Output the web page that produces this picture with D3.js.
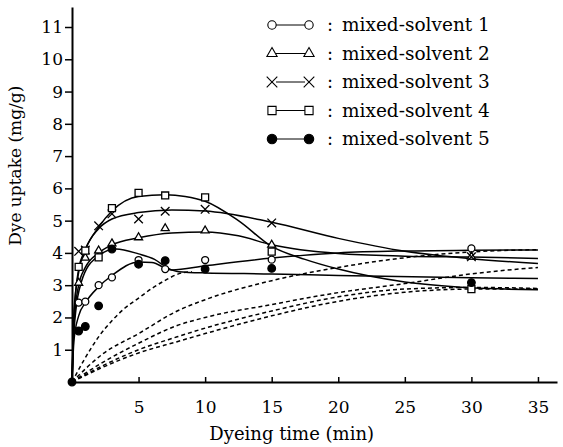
<!DOCTYPE html>
<html>
<head>
<meta charset="utf-8">
<script src="https://cdn.jsdelivr.net/npm/d3@7"></script>
<style>
  body { margin: 0; background: #fff; }
  text { font-family: "DejaVu Serif", serif; fill: #000; }
</style>
</head>
<body>
<div id="chart"></div>
<script>
// measured points (min, mg/g), null = not visible
const times = [0, 0.5, 1, 2, 3, 5, 7, 10, 15, 30];
const solvent1 = [null, 2.46, 2.49, 3.0, 3.24, 3.78, 3.5, 3.78, 3.79, 4.14];
const solvent2 = [null, 3.07, 3.85, 4.07, 4.29, 4.48, 4.76, 4.69, 4.25, 3.88];
const solvent3 = [null, 4.05, 4.09, 4.84, 5.21, 5.05, 5.29, 5.35, 4.93, 3.88];
const solvent4 = [null, 3.57, 4.07, 3.86, 5.39, 5.86, 5.78, 5.72, 4.04, 2.88];
const solvent5 = [0, 1.58, 1.72, 2.36, 4.12, 3.65, 3.76, 3.5, 3.52, 3.08];

// fitted solid curves
const fit1X = [0, 0.15, 0.5, 1, 2, 3, 5, 6, 7.5, 10, 15, 20, 25, 30, 35];
const fit1Y = [0, 1.3, 2.05, 2.45, 2.95, 3.3, 3.72, 3.7, 3.47, 3.6, 3.84, 4.0, 4.06, 4.08, 4.09];
const fit2X = [0, 0.15, 0.5, 1, 2, 3, 5, 7.5, 10, 12.5, 15, 20, 25, 30, 35];
const fit2Y = [0, 1.8, 3.0, 3.55, 4.0, 4.25, 4.47, 4.62, 4.65, 4.53, 4.25, 3.98, 3.9, 3.87, 3.83];
const fit3X = [0, 0.15, 0.5, 1, 2, 3, 5, 7.5, 10, 15, 20, 25, 30, 35];
const fit3Y = [0, 2.2, 3.4, 4.1, 4.75, 5.05, 5.25, 5.33, 5.3, 4.95, 4.45, 4.05, 3.82, 3.67];
const fit4X = [0, 0.15, 0.5, 1, 2, 3, 5, 7, 8.5, 10, 12.5, 15, 17.5, 20, 25, 30, 35];
const fit4Y = [0, 2.0, 3.5, 4.1, 4.8, 5.3, 5.75, 5.8, 5.75, 5.6, 5.0, 4.2, 3.8, 3.5, 3.1, 2.92, 2.86];
const fit5X = [0, 0.15, 0.7, 1.8, 3.3, 5, 6.2, 7.2, 8, 10, 15, 20, 30, 35];
const fit5Y = [0, 1.6, 3.1, 3.85, 4.12, 3.97, 3.8, 3.53, 3.42, 3.38, 3.35, 3.3, 3.23, 3.21];

// dashed curves
const dash1X = [0, 1, 2, 3, 4, 5, 6, 7, 8, 9];
const dash1Y = [0, 0.75, 1.4, 1.9, 2.3, 2.6, 2.9, 3.15, 3.35, 3.42];
const dashX = [0, 2.28, 5, 7.9, 10, 15, 20, 25, 30, 35];
const dash2Y = [0, 0.86, 1.5, 2.2, 2.55, 3.14, 3.55, 3.85, 4.03, 4.1];
const dash3Y = [0, 0.6, 1.2, 1.75, 2.0, 2.4, 2.77, 3.05, 3.35, 3.55];
const dash4Y = [0, 0.5, 1.0, 1.4, 1.67, 2.2, 2.64, 2.88, 2.93, 2.9];
const dash5Y = [0, 0.45, 0.9, 1.25, 1.5, 2.05, 2.5, 2.78, 2.88, 2.88];

const legendNames = ["mixed-solvent 1", "mixed-solvent 2", "mixed-solvent 3", "mixed-solvent 4", "mixed-solvent 5"];
const xTicks = [5, 10, 15, 20, 25, 30, 35];
const yTicks = [1, 2, 3, 4, 5, 6, 7, 8, 9, 10, 11];

const W = 563, H = 447;
const margin = {top: 7, right: 6, bottom: 65, left: 72};
const width = W - margin.left - margin.right,
    height = H - margin.top - margin.bottom;

const svg = d3.select("#chart").append("svg")
    .attr("width", W).attr("height", H)
    .append("g")
    .attr("transform", `translate(${margin.left}, ${margin.top})`);

const x = d3.scaleLinear().domain([0, 36.43]).range([0, width]);
const y = d3.scaleLinear().domain([0, 11.62]).range([height, 0]);

// axes
const xAxis = svg.append("g")
    .attr("transform", `translate(0, ${height})`)
    .call(d3.axisBottom(x).tickValues(xTicks).tickSizeInner(-5).tickSizeOuter(0).tickPadding(19));
const yAxis = svg.append("g")
    .call(d3.axisLeft(y).tickValues(yTicks).tickSizeInner(7).tickSizeOuter(0).tickPadding(2));
[xAxis, yAxis].forEach(a => {
    a.select(".domain").attr("stroke-width", 2);
    a.selectAll(".tick line").attr("stroke-width", 1.5);
    a.selectAll("text").style("font-family", '"DejaVu Serif", serif').style("font-size", "17px");
});

svg.append("text")
    .attr("x", x(16.5)).attr("y", height + 58)
    .attr("text-anchor", "middle").style("font-size", "18px")
    .text("Dyeing time (min)");
svg.append("text")
    .attr("transform", `translate(${-51}, ${y(6.7)}) rotate(-90)`)
    .attr("text-anchor", "middle").style("font-size", "17px")
    .text("Dye uptake (mg/g)");

const line = d3.line().curve(d3.curveMonotoneX)
    .x(d => x(d[0])).y(d => y(d[1]));

const fits = [[fit1X, fit1Y], [fit2X, fit2Y], [fit3X, fit3Y], [fit4X, fit4Y], [fit5X, fit5Y]];
fits.forEach(([xs, ys]) => {
    svg.append("path")
        .datum(xs.map((v, i) => [v, ys[i]]))
        .attr("fill", "none").attr("stroke", "#000").attr("stroke-width", 1.5)
        .attr("d", line);
});

const dashes = [[dash1X, dash1Y], [dashX, dash2Y], [dashX, dash3Y], [dashX, dash4Y], [dashX, dash5Y]];
dashes.forEach(([xs, ys]) => {
    svg.append("path")
        .datum(xs.map((v, i) => [v, ys[i]]))
        .attr("fill", "none").attr("stroke", "#000").attr("stroke-width", 1.5)
        .attr("stroke-dasharray", "4,3")
        .attr("d", line);
});

// marker styles per series
const symbols = [
    {type: d3.symbolCircle, size: 38, legendSize: 55, fill: "#fff"},
    {type: d3.symbolTriangle2, size: 46, legendSize: 75, fill: "#fff"},
    {type: d3.symbolTimes, size: 50, legendSize: 75, fill: "none"},
    {type: d3.symbolSquare2, size: 62, legendSize: 85, fill: "#fff"},
    {type: d3.symbolCircle, size: 45, legendSize: 70, fill: "#000"}
];
const series = [solvent1, solvent2, solvent3, solvent4, solvent5];

series.forEach((vals, si) => {
    const s = symbols[si];
    svg.append("g").selectAll("path")
        .data(times.map((t, i) => [t, vals[i]]).filter(d => d[1] !== null))
        .join("path")
        .attr("transform", d => `translate(${x(d[0])}, ${y(d[1])})`)
        .attr("d", d3.symbol().type(s.type).size(s.size))
        .attr("fill", s.fill).attr("stroke", "#000").attr("stroke-width", 1.3);
});

// legend
const legend = svg.append("g").attr("transform", `translate(${272 - margin.left}, ${25 - margin.top})`);
legendNames.forEach((name, i) => {
    const s = symbols[i];
    const g = legend.append("g").attr("transform", `translate(0, ${i * 28.5})`);
    g.append("line").attr("x1", 4).attr("x2", 33).attr("y1", 0).attr("y2", 0)
        .attr("stroke", "#000").attr("stroke-width", 1);
    [0, 37].forEach(cx => {
        g.append("path")
            .attr("transform", `translate(${cx}, 0)`)
            .attr("d", d3.symbol().type(s.type).size(s.legendSize))
            .attr("fill", s.fill).attr("stroke", "#000").attr("stroke-width", 1.1);
    });
    g.append("text").attr("x", 55).attr("y", 6).style("font-size", "18px").text(":");
    g.append("text").attr("x", 70).attr("y", 6).style("font-size", "18.5px").text(name);
});
</script>
</body>
</html>
